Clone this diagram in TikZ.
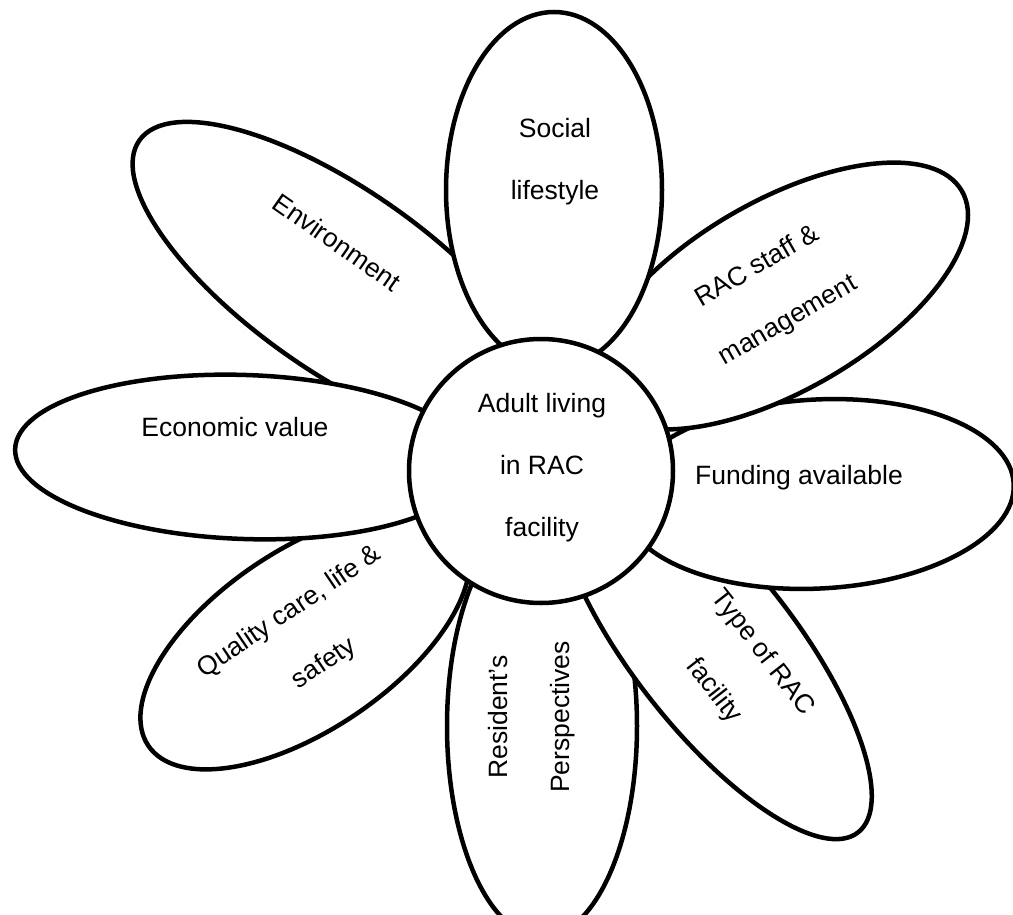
\documentclass[tikz,border=0pt]{standalone}
\usepackage{fontspec}
\setmainfont{Liberation Sans}
\usetikzlibrary{shapes.geometric}
\begin{document}
\begin{tikzpicture}[x=1pt,y=-1pt,
  petal/.style={ellipse, draw=black, fill=white, line width=4.5pt, inner sep=0pt},
  hub/.style={circle, draw=black, fill=white, line width=4.5pt, inner sep=0pt, minimum size=264pt},
  lbl/.style={font=\fontsize{26.5}{62}\selectfont, align=center, inner sep=0pt, text=black}]
\fill[white] (0,0) rectangle (1013,915);
\clip (0,0) rectangle (1013,915);
% petals, bottom layer first
\node[petal, minimum width=490pt, minimum height=182pt, rotate=-35] (env) at (340,281) {};
\node[petal, minimum width=378pt, minimum height=180pt, rotate=34] (qual) at (305,640) {};
\node[petal, minimum width=460pt, minimum height=164pt, rotate=-2] (econ) at (245,457) {};
\node[petal, minimum width=190pt, minimum height=422pt] (res) at (542,726) {};
\node[petal, minimum width=468pt, minimum height=163pt, rotate=-52] (type) at (714,648) {};
\node[petal, minimum width=392pt, minimum height=189pt, rotate=3] (fund) at (818,494) {};
\node[petal, minimum width=420pt, minimum height=190pt, rotate=30] (staff) at (780,296) {};
\node[petal, minimum width=216pt, minimum height=356pt] (soc) at (554,190) {};
\node[hub] (hub) at (541,471) {};
% labels
\node[lbl, rotate=-35] (envT) at (337,242) {Environment};
\node[lbl, rotate=34] (qualT) at (307,638) {Quality care, life \&\\safety};
\node[lbl] (econT) at (235,427) {Economic value};
\node[lbl, rotate=90] (resT) at (532,717) {Resident’s\\Perspectives};
\node[lbl, rotate=-52] (typeT) at (738,672) {Type of RAC\\facility};
\node[lbl] (fundT) at (799,478) {Funding available};
\node[lbl, rotate=30] (staffT) at (773,294) {RAC staff \&\\management};
\node[lbl] (socT) at (555,162) {Social\\lifestyle};
\node[lbl] (hubT) at (542,468) {Adult living\\in RAC\\facility};
\end{tikzpicture}
\end{document}
